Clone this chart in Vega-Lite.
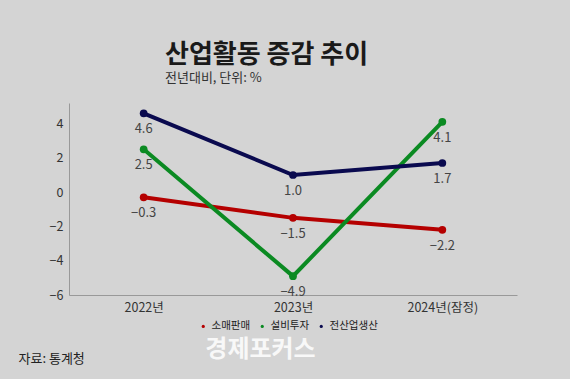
{
  "$schema": "https://vega.github.io/schema/vega-lite/v6.json",
  "width": 448,
  "height": 192,
  "autosize": {"type": "none"},
  "padding": {"left": 69, "top": 103, "right": 53, "bottom": 84},
  "background": "#d4d4d4",
  "config": {
    "font": "Noto Sans CJK KR",
    "view": {"stroke": null},
    "axis": {"domainColor": "#999999", "ticks": false, "grid": false, "labelColor": "#333333", "labelFontSize": 12.5, "labelFont": "Noto Sans CJK KR"}
  },
  "title": {
    "text": "산업활동 증감 추이",
    "subtitle": "전년대비, 단위: %",
    "anchor": "start",
    "frame": "group",
    "dx": 96,
    "offset": 18,
    "fontSize": 26,
    "fontWeight": "bold",
    "color": "#1a1a1a",
    "subtitleFontSize": 13,
    "subtitleColor": "#333333",
    "subtitlePadding": 4
  },
  "data": {
    "values": [
      {"year": "2022년", "series": "소매판매", "value": -0.3},
      {"year": "2023년", "series": "소매판매", "value": -1.5},
      {"year": "2024년(잠정)", "series": "소매판매", "value": -2.2},
      {"year": "2022년", "series": "설비투자", "value": 2.5},
      {"year": "2023년", "series": "설비투자", "value": -4.9},
      {"year": "2024년(잠정)", "series": "설비투자", "value": 4.1},
      {"year": "2022년", "series": "전산업생산", "value": 4.6},
      {"year": "2023년", "series": "전산업생산", "value": 1.0},
      {"year": "2024년(잠정)", "series": "전산업생산", "value": 1.7}
    ]
  },
  "encoding": {
    "x": {
      "field": "year", "type": "ordinal", "sort": null,
      "scale": {"type": "point", "padding": 0.5},
      "axis": {"labelAngle": 0, "labelPadding": 6, "title": "자료: 통계청", "titleAnchor": "start", "titleX": -51, "titleY": 63, "titleBaseline": "middle", "titleFontSize": 13, "titleFontWeight": "normal", "titleColor": "#222222"}
    },
    "y": {
      "field": "value", "type": "quantitative",
      "scale": {"domain": [-6, 5.2], "nice": false, "zero": false},
      "axis": {"values": [-6, -4, -2, 0, 2, 4], "labelPadding": 6, "title": "경제포커스", "titleAngle": 0, "titleX": 191, "titleY": 246, "titleAlign": "center", "titleBaseline": "middle", "titleFontSize": 24, "titleFontWeight": "bold", "titleColor": "#ffffff", "titleOpacity": 0.85}
    }
  },
  "layer": [
    {
      "mark": {"type": "line", "strokeWidth": 4, "point": {"size": 60, "filled": true, "opacity": 1}},
      "encoding": {
        "color": {
          "field": "series", "type": "nominal",
          "scale": {"domain": ["소매판매", "설비투자", "전산업생산"], "range": ["#b50000", "#0b8a22", "#0a0a4f"]},
          "legend": {"orient": "none", "legendX": 129, "legendY": 218, "direction": "horizontal", "title": null, "symbolType": "circle", "symbolSize": 10, "labelFontSize": 10.5, "labelColor": "#222222", "columnPadding": 6, "labelOffset": 3, "symbolStrokeWidth": 0}
        }
      }
    },
    {
      "mark": {"type": "text", "dy": 16, "fontSize": 13, "color": "#444444"},
      "encoding": {
        "text": {"field": "value", "type": "quantitative", "format": ".1f"},
        "detail": {"field": "series"}
      }
    }
  ]
}
